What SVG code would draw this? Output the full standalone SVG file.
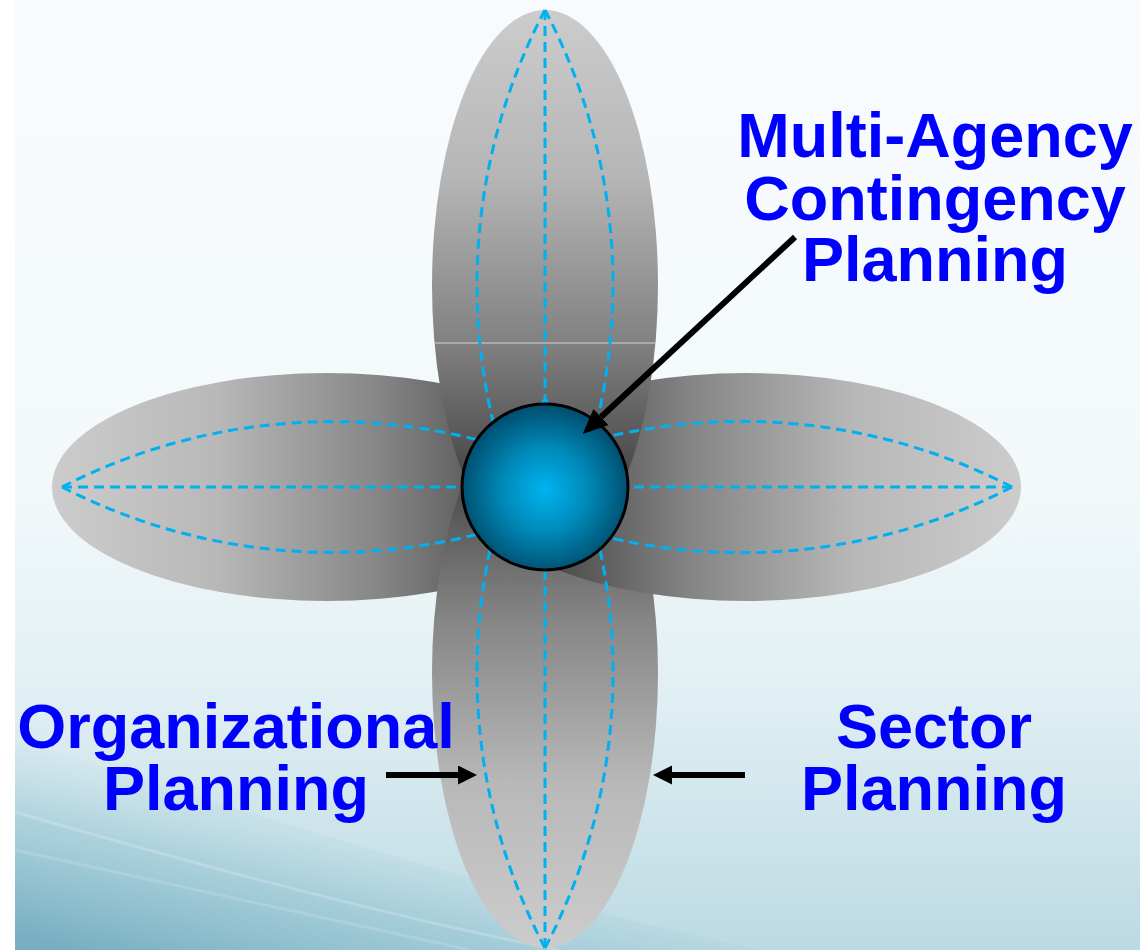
<svg xmlns="http://www.w3.org/2000/svg" width="1140" height="950" viewBox="0 0 1140 950">
<defs>
<style>
.lbl{font-family:"Liberation Sans",Arial,sans-serif;font-weight:bold;font-size:63px;fill:#0000ff;text-anchor:middle}
.dash{fill:none;stroke:#00b0f0;stroke-width:3;stroke-dasharray:10 6}
.arr{stroke:#000;stroke-width:6;fill:none}
</style>
<linearGradient id="bg" x1="0" y1="0" x2="0" y2="950" gradientUnits="userSpaceOnUse">
<stop offset="0" stop-color="#f8fbfd"/>
<stop offset="0.5" stop-color="#f3f9fb"/>
<stop offset="0.72" stop-color="#e2f0f4"/>
<stop offset="1" stop-color="#bcdae3"/>
</linearGradient>
<linearGradient id="bgw" x1="120" y1="960" x2="170" y2="760" gradientUnits="userSpaceOnUse">
<stop offset="0" stop-color="#74adc0" stop-opacity="0.95"/>
<stop offset="0.55" stop-color="#8cbfce" stop-opacity="0.5"/>
<stop offset="1" stop-color="#b8d8e2" stop-opacity="0"/>
</linearGradient>
<linearGradient id="gTop" x1="0" y1="10" x2="0" y2="560" gradientUnits="userSpaceOnUse">
<stop offset="0" stop-color="#cccccc"/>
<stop offset="0.3" stop-color="#b6b6b6"/>
<stop offset="0.6" stop-color="#828282"/>
<stop offset="0.85" stop-color="#464646"/>
<stop offset="1" stop-color="#303030"/>
</linearGradient>
<linearGradient id="gBot" x1="0" y1="948" x2="0" y2="398" gradientUnits="userSpaceOnUse">
<stop offset="0" stop-color="#cccccc"/>
<stop offset="0.3" stop-color="#b8b8b8"/>
<stop offset="0.6" stop-color="#858585"/>
<stop offset="0.85" stop-color="#4a4a4a"/>
<stop offset="1" stop-color="#303030"/>
</linearGradient>
<linearGradient id="gLeft" x1="52" y1="0" x2="602" y2="0" gradientUnits="userSpaceOnUse">
<stop offset="0" stop-color="#cccccc"/>
<stop offset="0.3" stop-color="#b8b8b8"/>
<stop offset="0.6" stop-color="#858585"/>
<stop offset="0.85" stop-color="#4a4a4a"/>
<stop offset="1" stop-color="#303030"/>
</linearGradient>
<linearGradient id="gRight" x1="1021" y1="0" x2="471" y2="0" gradientUnits="userSpaceOnUse">
<stop offset="0" stop-color="#cccccc"/>
<stop offset="0.3" stop-color="#b8b8b8"/>
<stop offset="0.6" stop-color="#858585"/>
<stop offset="0.85" stop-color="#4a4a4a"/>
<stop offset="1" stop-color="#303030"/>
</linearGradient>
<radialGradient id="gBall" cx="545" cy="490" r="85" gradientUnits="userSpaceOnUse">
<stop offset="0" stop-color="#00b4f0"/>
<stop offset="0.5" stop-color="#0089b8"/>
<stop offset="1" stop-color="#004e6e"/>
</radialGradient>
<marker id="headBig" markerUnits="userSpaceOnUse" markerWidth="26" markerHeight="22" refX="0" refY="11" orient="auto">
<path d="M0,0 L25,11 L0,22 z" fill="#000"/>
</marker>
<marker id="headSmall" markerUnits="userSpaceOnUse" markerWidth="20" markerHeight="20" refX="0" refY="9.5" orient="auto">
<path d="M0,0 L19,9.5 L0,19 z" fill="#000"/>
</marker>
</defs>

<rect x="0" y="0" width="1140" height="950" fill="#ffffff"/>
<rect x="15" y="0" width="1125" height="950" fill="url(#bg)"/>
<path d="M15,740 C220,800 440,880 760,950 L15,950 Z" fill="url(#bgw)"/>
<path d="M15,812 C180,860 380,915 560,950" fill="none" stroke="#ffffff" stroke-opacity="0.2" stroke-width="3"/>
<path d="M15,850 C200,890 360,925 470,950" fill="none" stroke="#ffffff" stroke-opacity="0.15" stroke-width="3"/>

<g id="petal-left"><ellipse cx="327" cy="487" rx="275" ry="114" fill="url(#gLeft)"/></g>
<g id="petal-bottom"><ellipse cx="545" cy="673" rx="113" ry="275" fill="url(#gBot)"/></g>
<g id="petal-right"><ellipse cx="746" cy="487" rx="275" ry="114" fill="url(#gRight)"/></g>
<g id="petal-top">
<ellipse cx="545" cy="285" rx="113" ry="275" fill="url(#gTop)"/>
<line x1="435" y1="343" x2="656" y2="343" stroke="#d4d4d4" stroke-width="1.2"/>
</g>

<g id="veins">
<path class="dash" d="M545,10 V487"/>
<path class="dash" d="M545,10 A590,590 0 0 0 545,560"/>
<path class="dash" d="M545,10 A590,590 0 0 1 545,560"/>
<path class="dash" d="M545,948 V487"/>
<path class="dash" d="M545,948 A590,590 0 0 1 545,398"/>
<path class="dash" d="M545,948 A590,590 0 0 0 545,398"/>
<path class="dash" d="M62,487 H545"/>
<path class="dash" d="M62,487 A590,590 0 0 1 602,487"/>
<path class="dash" d="M62,487 A590,590 0 0 0 602,487"/>
<path class="dash" d="M1012,487 H545"/>
<path class="dash" d="M1012,487 A590,590 0 0 0 471,487"/>
<path class="dash" d="M1012,487 A590,590 0 0 1 471,487"/>
</g>

<g id="center">
<circle cx="545" cy="487" r="83" fill="url(#gBall)" stroke="#000" stroke-width="3"/>
</g>

<g id="connectors">
<line class="arr" x1="795" y1="237" x2="601" y2="417" marker-end="url(#headBig)"/>
<line class="arr" x1="386" y1="775" x2="458" y2="775" marker-end="url(#headSmall)"/>
<line class="arr" x1="745" y1="775" x2="672" y2="775" marker-end="url(#headSmall)"/>
</g>

<g id="label-mac">
<text class="lbl" x="935" y="157">Multi-Agency</text>
<text class="lbl" x="935" y="220">Contingency</text>
<text class="lbl" x="935" y="281">Planning</text>
</g>
<g id="label-org">
<text class="lbl" x="236" y="748">Organizational</text>
<text class="lbl" x="236" y="810">Planning</text>
</g>
<g id="label-sector">
<text class="lbl" x="934" y="748">Sector</text>
<text class="lbl" x="934" y="810">Planning</text>
</g>
</svg>
